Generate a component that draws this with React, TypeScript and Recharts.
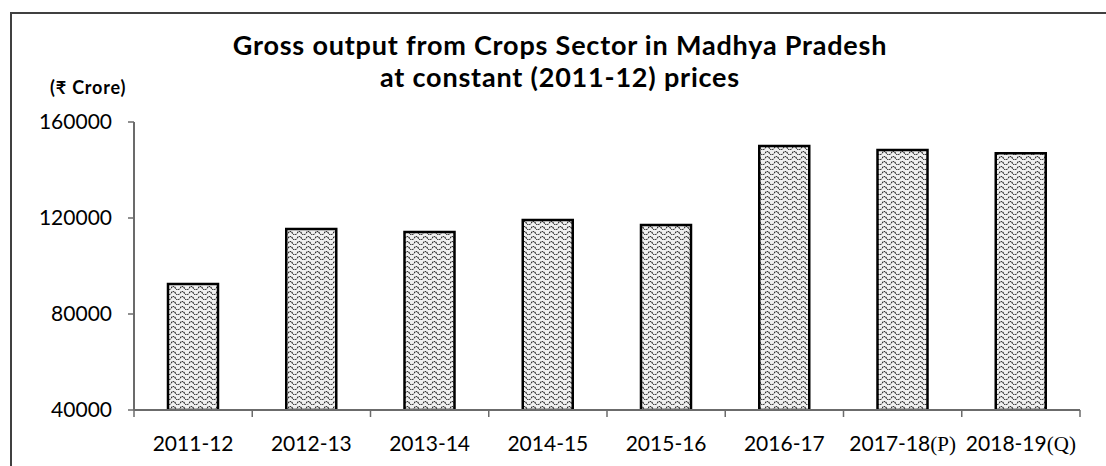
import React from 'react';
import { BarChart, Bar, XAxis, YAxis } from 'recharts';

const categories = ['2011-12', '2012-13', '2013-14', '2014-15', '2015-16', '2016-17', '2017-18', '2018-19'];
const suffixes = ['', '', '', '', '', '', '(P)', '(Q)'];
const grossOutput = [92500, 115400, 114200, 119200, 117100, 150000, 148300, 147000];
const yTicks = [40000, 80000, 120000, 160000];
const titleLines = ['Gross output from Crops Sector in Madhya Pradesh', 'at constant (2011-12) prices'];
const unitLabel = '(₹ Crore)';

const data = categories.map((c, i) => ({ name: c, suffix: suffixes[i], value: grossOutput[i] }));

const W = 1106;
const H = 466;
const MARGIN = { top: 122, right: 26, bottom: 0, left: 74 };
const Y_W = 60;
const X_H = 56;
const PLOT_W = W - MARGIN.left - Y_W - MARGIN.right;
const BAND = PLOT_W / categories.length;
const SANS = "Lato, 'Noto Sans', 'DejaVu Sans', sans-serif";
const SERIF = "'Liberation Serif', 'DejaVu Serif', serif";

function XTick(props: any) {
  const { x, y, payload, index } = props;
  const i = typeof index === 'number' ? index : payload.index;
  const d = data[i] || { name: payload.value, suffix: '' };
  return (
    <g>
      {i === 0 && (
        <line x1={x - BAND / 2} x2={x - BAND / 2} y1={y} y2={y + 7} stroke="#6b6b6b" strokeWidth={1.5} />
      )}
      <line x1={x + BAND / 2} x2={x + BAND / 2} y1={y} y2={y + 7} stroke="#6b6b6b" strokeWidth={1.5} />
      <text x={x} y={y + 41} textAnchor="middle" fontFamily={SANS} fontSize={21} fill="#000">
        {d.name}
        {d.suffix ? <tspan fontFamily={SERIF} fontSize={21}>{d.suffix}</tspan> : null}
      </text>
    </g>
  );
}

export default function App() {
  return (
    <div style={{ position: 'relative', width: W, height: H, overflow: 'hidden', background: '#fff' }}>
      <style>{'body{margin:0;}'}</style>
      <svg width={0} height={0} style={{ position: 'absolute' }}>
        <defs>
          <pattern id="wave" patternUnits="userSpaceOnUse" width={9} height={5}>
            <rect x={0} y={0} width={9} height={5} fill="#f0f0f0" />
            <path d="M0 3.2 Q2.25 -0.2 4.5 3.2 T9 3.2" fill="none" stroke="#2a2a2a" strokeWidth={1.1} strokeDasharray="1.6 0.6" />
          </pattern>
        </defs>
      </svg>
      <div
        style={{
          position: 'absolute',
          left: 10,
          top: 12,
          width: W + 20,
          height: H + 20,
          border: '2px solid #404040',
          boxSizing: 'border-box',
        }}
      />
      <div style={{ position: 'absolute', left: 0, top: 0 }}>
        <BarChart width={W} height={H} data={data} margin={MARGIN}>
          <XAxis
            dataKey="name"
            height={X_H}
            axisLine={{ stroke: '#6b6b6b', strokeWidth: 2 }}
            tickLine={false}
            tickSize={0}
            tickMargin={0}
            tick={<XTick />}
            interval={0}
          />
          <XAxis
            xAxisId="top"
            dataKey="name"
            orientation="top"
            height={0}
            tick={false}
            tickLine={false}
            axisLine={{ stroke: '#a6a6a6', strokeWidth: 2 }}
          />
          <YAxis
            width={Y_W}
            domain={[40000, 160000]}
            ticks={yTicks}
            allowDataOverflow
            axisLine={{ stroke: '#6b6b6b', strokeWidth: 2 }}
            tickLine={{ stroke: '#6b6b6b', strokeWidth: 1.5 }}
            tickSize={6}
            tickMargin={16}
            tick={{ fontFamily: SANS, fontSize: 21, fill: '#000' }}
          />
          <YAxis
            yAxisId="right"
            orientation="right"
            width={0}
            domain={[40000, 160000]}
            tick={false}
            tickLine={false}
            axisLine={{ stroke: '#a6a6a6', strokeWidth: 2 }}
          />
          <Bar dataKey="value" fill="url(#wave)" stroke="#000" strokeWidth={2.5} barSize={50} isAnimationActive={false} />
        </BarChart>
      </div>
      <div
        style={{
          position: 'absolute',
          left: 0,
          width: 1120,
          top: 29,
          textAlign: 'center',
          fontFamily: SANS,
          fontWeight: 700,
          fontSize: 27,
          letterSpacing: 0.8,
          lineHeight: '32px',
          color: '#000',
        }}
      >
        {titleLines.map((t) => (
          <div key={t}>{t}</div>
        ))}
      </div>
      <div
        style={{
          position: 'absolute',
          left: 50,
          top: 76,
          fontFamily: SANS,
          fontWeight: 700,
          fontSize: 18,
          letterSpacing: 0.8,
          lineHeight: '22px',
          color: '#000',
          whiteSpace: 'nowrap',
        }}
      >
        {unitLabel}
      </div>
    </div>
  );
}
